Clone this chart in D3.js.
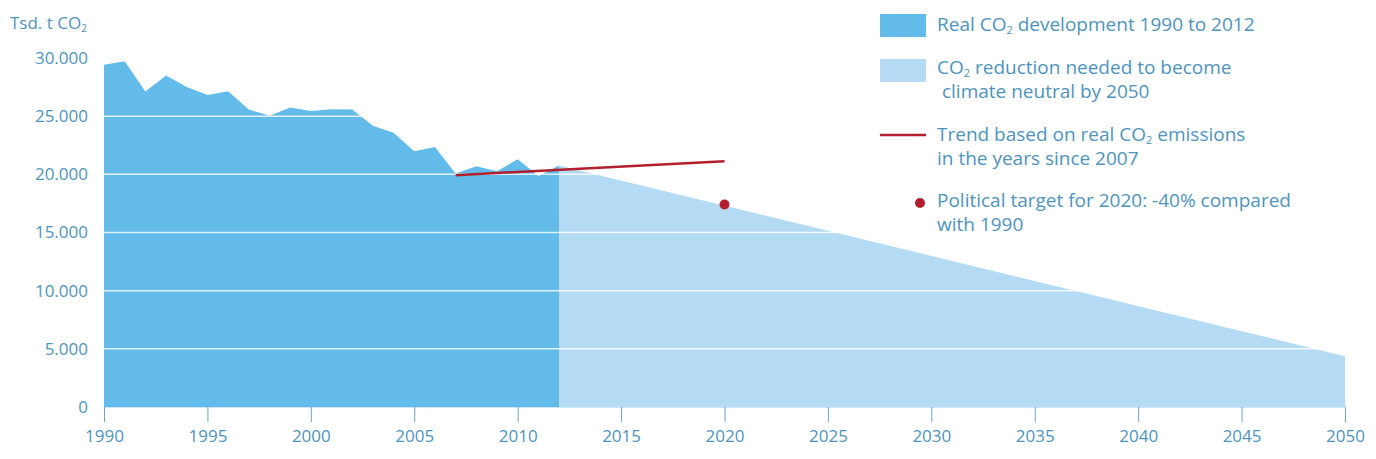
<!DOCTYPE html>
<html>
<head>
<meta charset="utf-8">
<script src="https://cdn.jsdelivr.net/npm/d3@7"></script>
<style>
  body { margin: 0; background: #fff; }
  text { font-family: "Open Sans", sans-serif; fill: #4f94bd; }
</style>
</head>
<body>
<svg id="chart" width="1376" height="459"></svg>
<script>
// real emissions, Tsd. t CO2
const realYears = [1990,1991,1992,1993,1994,1995,1996,1997,1998,1999,2000,2001,2002,2003,2004,2005,2006,2007,2008,2009,2010,2011,2012];
const realValues = [29410,29720,27120,28500,27500,26830,27150,25580,25030,25750,25450,25600,25580,24170,23570,21990,22360,20080,20700,20270,21300,19850,20760];

// needed reduction path to 2050
const pathYears = [2012, 2050];
const pathValues = [20760, 4360];

// trend since 2007
const trendYears = [2007, 2020];
const trendValues = [19930, 21130];

// political target 2020
const targetYear = 2020;
const targetValue = 17400;

const xTicks = [1990,1995,2000,2005,2010,2015,2020,2025,2030,2035,2040,2045,2050];
const yTicks = [0,5000,10000,15000,20000,25000,30000];

const darkBlue = "#62bbe9", lightBlue = "#b5dbf4", red = "#b31f2c";

var svg = d3.select("#chart");

var x = d3.scaleLinear().domain([1990, 2050]).range([104, 1345]);
var y = d3.scaleLinear().domain([0, 30000]).range([407, 58]);

var fmt = function (d) {
	return d == 0 ? "0" : d3.format(",")(d).replace(",", ".");
};

function toPts(xs, vs) {
	return xs.map(function (d, i) { return { year: d, value: vs[i] }; });
}

var area = d3.area()
	.x(function (d) { return x(d.year); })
	.y0(y(0))
	.y1(function (d) { return y(d.value); });

svg.append("path")
	.datum(toPts(pathYears, pathValues))
	.attr("fill", lightBlue)
	.attr("d", area);

svg.append("path")
	.datum(toPts(realYears, realValues))
	.attr("fill", darkBlue)
	.attr("d", area);

// white gridlines on top of the areas
svg.append("g")
	.selectAll("line")
	.data(yTicks.filter(function (d) { return d > 0; }))
	.enter()
	.append("line")
	.attr("x1", x(1990))
	.attr("x2", x(2050))
	.attr("y1", function (d) { return y(d); })
	.attr("y2", function (d) { return y(d); })
	.attr("stroke", "#fff")
	.attr("stroke-opacity", 0.8)
	.attr("stroke-width", 1.5);

// x axis
var xAxis = svg.append("g")
	.attr("transform", "translate(0," + y(0) + ")")
	.call(d3.axisBottom(x).tickValues(xTicks).tickFormat(d3.format("d")).tickSize(15).tickPadding(8));
xAxis.select(".domain").attr("stroke", "#cde6f6").attr("stroke-width", 1);
xAxis.selectAll(".tick line").attr("stroke", "#6aa6ca");
xAxis.selectAll("text").attr("font-size", "17px").style("fill", "#4f94bd");

// y axis
var yAxis = svg.append("g")
	.attr("transform", "translate(88,0)")
	.call(d3.axisLeft(y).tickValues(yTicks).tickFormat(fmt).tickSize(0).tickPadding(0));
yAxis.select(".domain").remove();
yAxis.selectAll("text").attr("font-size", "17px").style("fill", "#4f94bd");

// y title
var yt = svg.append("text").attr("x", 10).attr("y", 29).attr("font-size", "17px");
yt.append("tspan").text("Tsd. t CO");
yt.append("tspan").attr("font-size", "10px").attr("dy", 3).text("2");

// trend line
svg.append("path")
	.datum(toPts(trendYears, trendValues))
	.attr("fill", "none")
	.attr("stroke", red)
	.attr("stroke-width", 2.5)
	.attr("d", d3.line().x(function (d) { return x(d.year); }).y(function (d) { return y(d.value); }));

// target dot
svg.append("circle")
	.attr("cx", x(targetYear))
	.attr("cy", y(targetValue))
	.attr("r", 5)
	.attr("fill", red);

// legend
var lg = svg.append("g").attr("font-size", "19px");
lg.append("rect").attr("x", 880).attr("y", 14).attr("width", 46).attr("height", 23).attr("fill", darkBlue);
lg.append("rect").attr("x", 880).attr("y", 59).attr("width", 46).attr("height", 23).attr("fill", lightBlue);
lg.append("line").attr("x1", 880).attr("x2", 926).attr("y1", 135).attr("y2", 135).attr("stroke", red).attr("stroke-width", 2.5);
lg.append("circle").attr("cx", 920).attr("cy", 203).attr("r", 5).attr("fill", red);

function co2Line(yy, before, after) {
	var t = lg.append("text").attr("x", 937).attr("y", yy);
	t.append("tspan").text(before + "CO");
	t.append("tspan").attr("font-size", "11px").attr("dy", 3).text("2");
	t.append("tspan").attr("dy", -3).text(after);
}
function plainLine(yy, s) {
	lg.append("text").attr("x", 937).attr("y", yy).attr("xml:space", "preserve").text(s);
}

co2Line(31, "Real ", " development 1990 to 2012");
co2Line(74, "", " reduction needed to become");
plainLine(98, " climate neutral by 2050");
co2Line(141, "Trend based on real ", " emissions");
plainLine(165, "in the years since 2007");
plainLine(207, "Political target for 2020: -40% compared");
plainLine(231, "with 1990");
</script>
</body>
</html>
